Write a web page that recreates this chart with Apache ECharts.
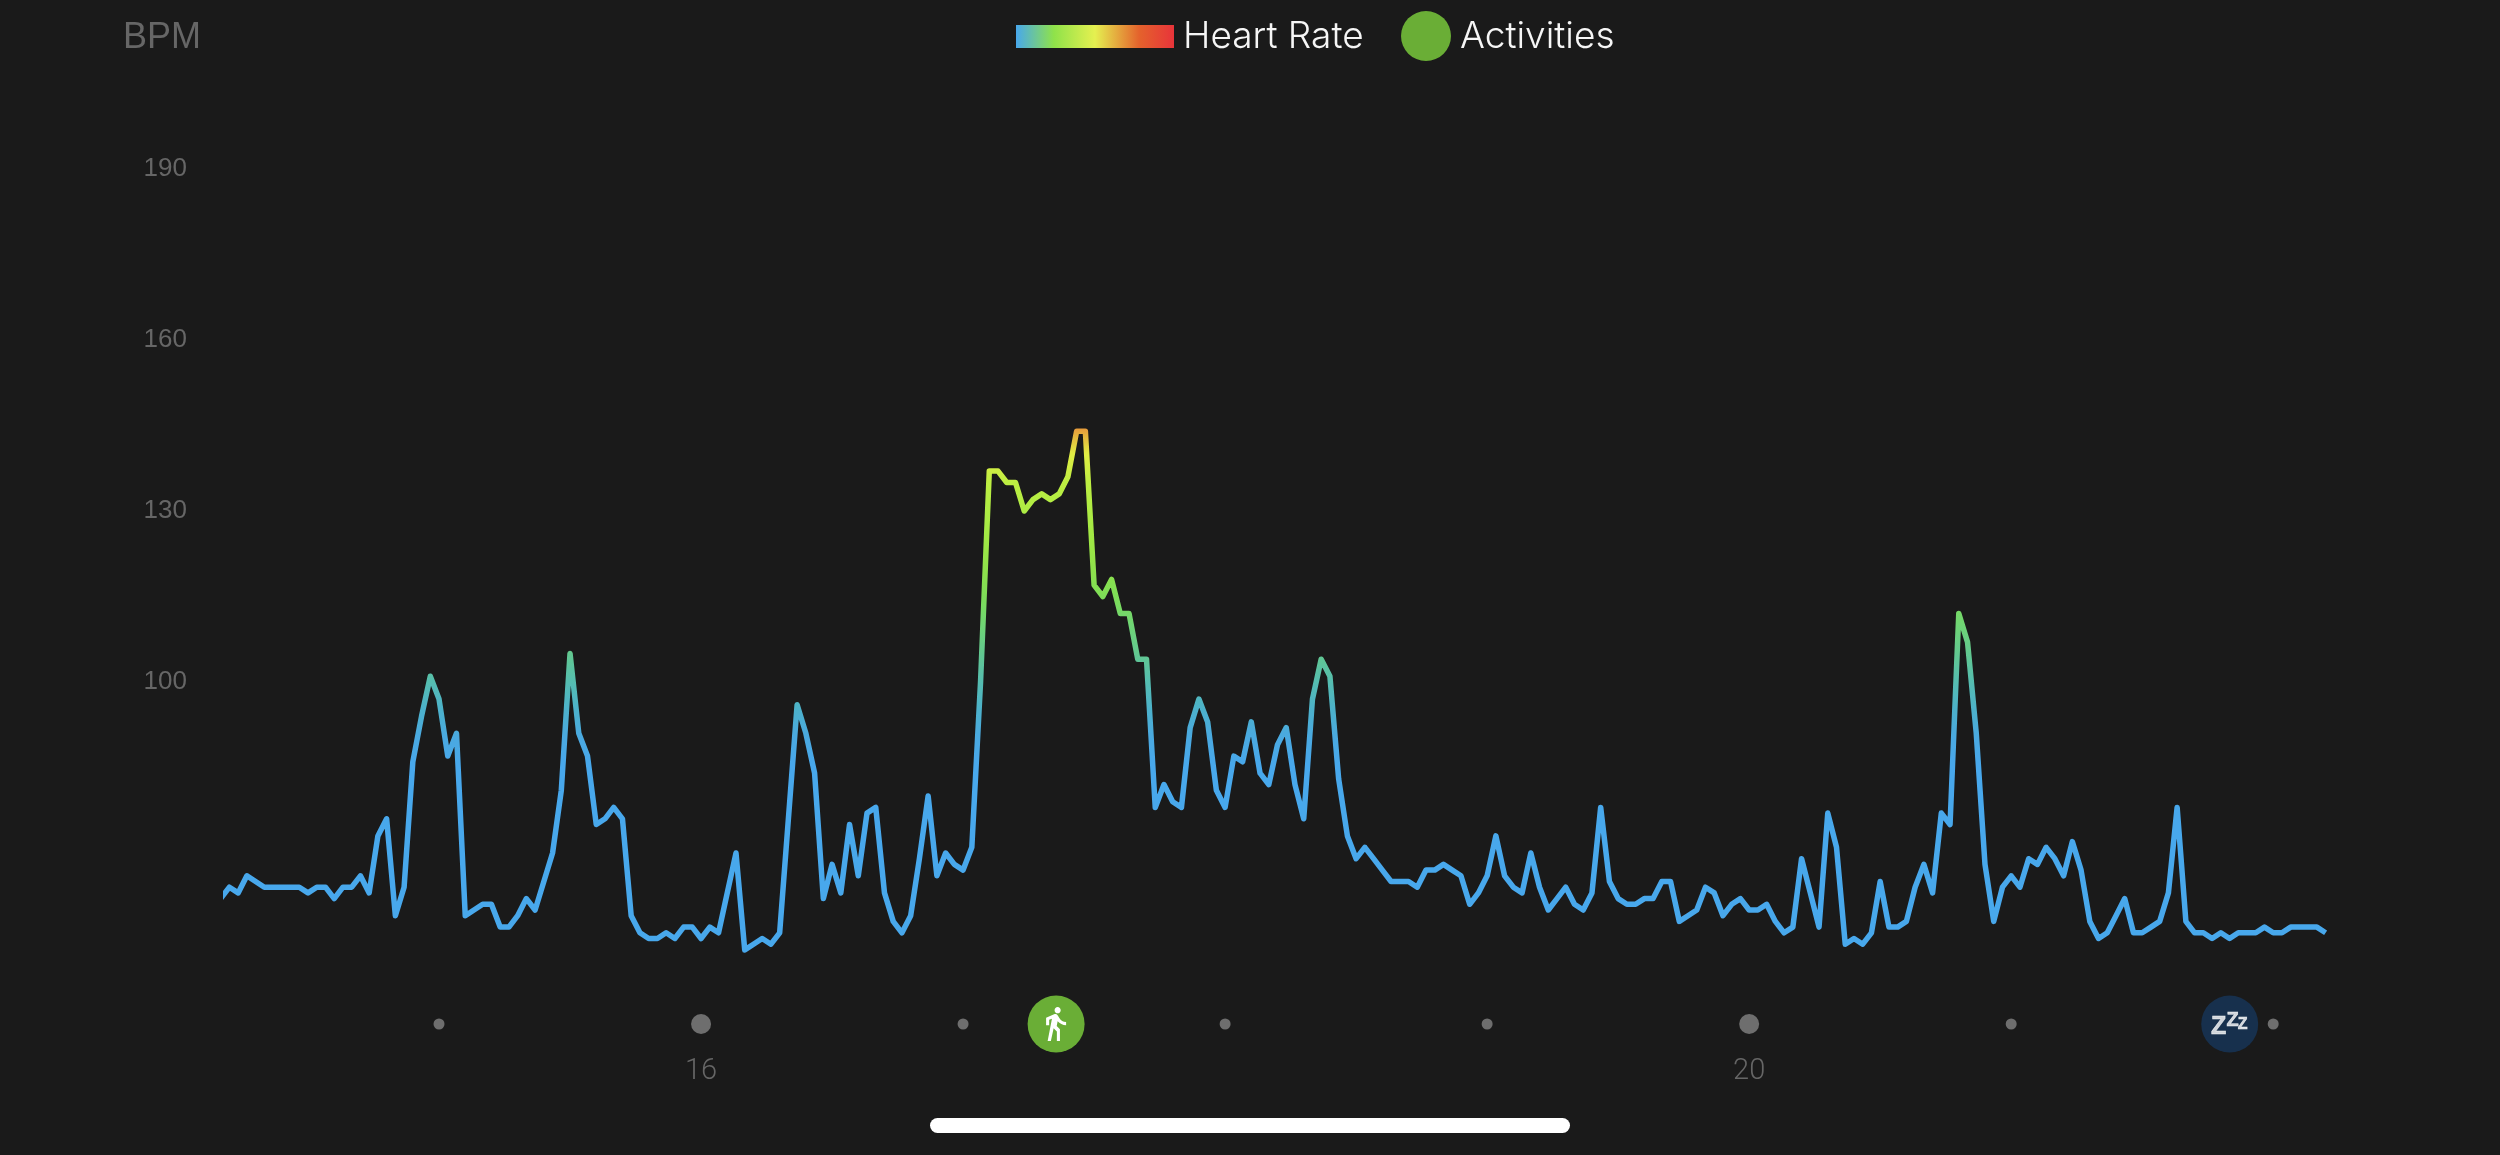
<!DOCTYPE html>
<html>
<head>
<meta charset="utf-8">
<title>Heart Rate</title>
<style>
  html, body { margin: 0; padding: 0; background: #1a1a1a; }
  #chart { width: 2500px; height: 1155px; }
</style>
<script src="https://cdn.jsdelivr.net/npm/echarts@6/dist/echarts.min.js"></script>
</head>
<body>
<div id="chart"></div>
<script>
// one reading every 2 minutes, first one is at 14:10 and gets clipped by the axis
const bpmValues = [
  62, 64, 63, 66, 65, 64, 64, 64, 64, 64, 63, 64, 64, 62, 64, 64, 66, 63, 73, 76,
  59, 64, 86, 94, 101, 97, 87, 91, 59, 60, 61, 61, 57, 57, 59, 62, 60, 65, 70, 81,
  105, 91, 87, 75, 76, 78, 76, 59, 56, 55, 55, 56, 55, 57, 57, 55, 57, 56, 63, 70,
  53, 54, 55, 54, 56, 76, 96, 91, 84, 62, 68, 63, 75, 66, 77, 78, 63, 58, 56, 59,
  69, 80, 66, 70, 68, 67, 71, 100, 137, 137, 135, 135, 130, 132, 133, 132, 133, 136, 144, 144,
  117, 115, 118, 112, 112, 104, 104, 78, 82, 79, 78, 92, 97, 93, 81, 78, 87, 86, 93, 84,
  82, 89, 92, 82, 76, 97, 104, 101, 83, 73, 69, 71, 69, 67, 65, 65, 65, 64, 67, 67,
  68, 67, 66, 61, 63, 66, 73, 66, 64, 63, 70, 64, 60, 62, 64, 61, 60, 63, 78, 65,
  62, 61, 61, 62, 62, 65, 65, 58, 59, 60, 64, 63, 59, 61, 62, 60, 60, 61, 58, 56,
  57, 69, 63, 57, 77, 71, 54, 55, 54, 56, 65, 57, 57, 58, 64, 68, 63, 77, 75, 112,
  107, 91, 68, 58, 64, 66, 64, 69, 68, 71, 69, 66, 72, 67, 58, 55, 56, 59, 62, 56,
  56, 57, 58, 63, 78, 58, 56, 56, 55, 56, 55, 56, 56, 56, 57, 56, 56, 57, 57, 57,
  57, 56
];
const yTicks = [100, 130, 160, 190];
const xTicks = [16, 20];
const smallHours = [15, 17, 18, 19, 21, 22];
const bigHours = [16, 20];
const walkHours = [17.355];
const sleepHours = [21.834];
const legendNames = ['Heart Rate', 'Activities'];
const blue = '#48a8ec';
// colour per 5 bpm, from 40 up to 145
const bpmColors = [
  blue, blue, blue, blue, blue, blue, blue, blue, blue, blue,
  '#4aa9e2', '#4cb1cc', '#55bdb0', '#62c890', '#6fd574', '#7edd58',
  '#8fe24a', '#a0e844', '#aeec44', '#bdee42', '#e2ee44', '#e8923a'
];

const ROW_BPM = 40; // the row of dots sits on the axis floor
const WALK_ICON = 'path://M13.5 5.5c1.1 0 2-.9 2-2s-.9-2-2-2-2 .9-2 2 .9 2 2 2zM9.8 8.9L7 23h2.1l1.8-8 2.1 2v6h2v-7.5l-2.1-2 .6-3C14.8 12 16.8 13 19 13v-2c-1.9 0-3.5-1-4.3-2.4l-1-1.6c-.4-.6-1-1-1.7-1-.3 0-.5.1-.8.1L6 8.3V13h2V9.6l1.8-.7';
const textFont = 'Inter';

const onRow = hours => hours.map(h => [h, ROW_BPM]);

function zLetter(offset, size) {
  return {
    type: 'scatter', data: onRow(sleepHours), symbolSize: 0, clip: false, z: 6, silent: true,
    label: {
      show: true, position: 'inside', formatter: 'Z', color: '#ffffff',
      fontFamily: 'Liberation Sans', fontWeight: 'bold', fontSize: size, offset: offset,
      textBorderColor: '#ffffff', textBorderWidth: 0.6
    }
  };
}

function dots(data, size, color, extra) {
  return Object.assign({
    type: 'scatter', data: onRow(data), symbolSize: size, clip: false,
    itemStyle: { color: color, opacity: 1 }
  }, extra);
}

const chart = echarts.init(document.getElementById('chart'));
chart.setOption({
  animation: false,
  backgroundColor: '#1a1a1a',
  grid: { left: 226, width: 2097, top: 169, height: 855 },
  xAxis: {
    type: 'value', min: 14.187, max: 22.19,
    axisLine: { show: false }, axisTick: { show: false }, splitLine: { show: false },
    axisLabel: {
      customValues: xTicks, formatter: v => String(v), margin: 33,
      color: '#666666', fontFamily: 'Roboto', fontWeight: 300, fontSize: 29
    }
  },
  yAxis: {
    type: 'value', min: ROW_BPM, max: 190,
    name: 'BPM', nameLocation: 'end', nameGap: 131,
    nameTextStyle: { color: '#666666', fontFamily: 'Liberation Sans', fontSize: 36, align: 'right', padding: [0, 25, 0, 0], verticalAlign: 'middle' },
    axisLine: { show: false }, axisTick: { show: false }, splitLine: { show: false },
    axisLabel: {
      customValues: yTicks, margin: 39, padding: [10, 0, 0, 0],
      color: '#666666', fontFamily: 'Liberation Sans', fontSize: 26
    }
  },
  visualMap: {
    show: false, type: 'continuous', seriesIndex: 0, dimension: 1,
    min: 40, max: 145, inRange: { color: bpmColors }
  },
  series: [
    {
      type: 'line', name: legendNames[0], showSymbol: false, z: 3,
      data: bpmValues.map((v, i) => [14 + (10 + i * 2) / 60, v]),
      lineStyle: { width: 5.5, join: 'round' }
    },
    dots(smallHours, 11, '#6e6e6e'),
    dots(bigHours, 20, '#6e6e6e'),
    dots(walkHours, 57, '#6aae36', { name: legendNames[1], z: 4 }),
    dots(walkHours, [20, 34], '#ffffff', { symbol: WALK_ICON, z: 5 }),
    dots(sleepHours, 57, '#17304d', { z: 4 }),
    zLetter([-11, 3], 25),
    zLetter([3, -4], 20),
    zLetter([13, 1], 16)
  ],
  graphic: [
    {
      type: 'rect', shape: { x: 1016, y: 25, width: 158, height: 23 },
      style: {
        fill: new echarts.graphic.LinearGradient(0, 0, 1, 0, [
          { offset: 0, color: '#48a8ec' },
          { offset: 0.24, color: '#8fe24a' },
          { offset: 0.5, color: '#e5f050' },
          { offset: 0.78, color: '#e4622c' },
          { offset: 1, color: '#e8343a' }
        ])
      }
    },
    {
      type: 'text', x: 1183, y: 37,
      style: { text: legendNames[0], fill: '#f6f6f6', font: '300 37px ' + textFont, textVerticalAlign: 'middle' }
    },
    { type: 'circle', shape: { cx: 1426, cy: 36, r: 25 }, style: { fill: '#6aae36' } },
    {
      type: 'text', x: 1460, y: 37,
      style: { text: legendNames[1], fill: '#f6f6f6', font: '300 37px ' + textFont, textVerticalAlign: 'middle' }
    },
    // phone home indicator
    { type: 'rect', shape: { x: 930, y: 1118, width: 640, height: 15, r: 7.5 }, style: { fill: '#ffffff' } }
  ]
});
</script>
</body>
</html>
